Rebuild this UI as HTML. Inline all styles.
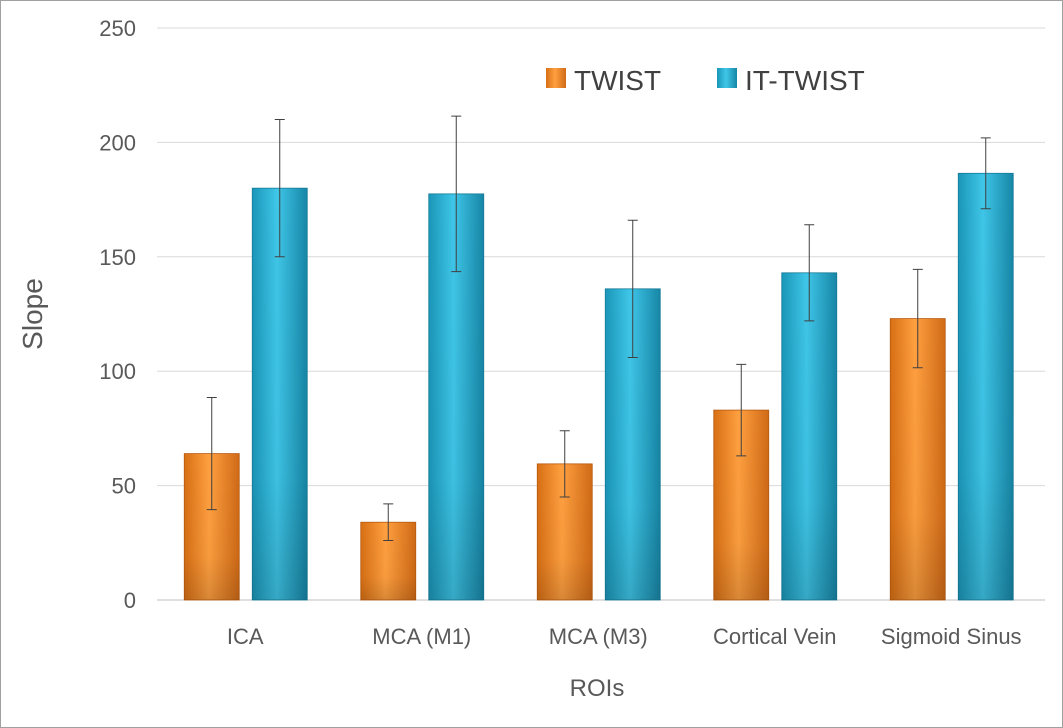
<!DOCTYPE html>
<html><head><meta charset="utf-8"><style>
html,body{margin:0;padding:0;background:#fff;}
svg{display:block;font-family:"Liberation Sans",sans-serif;}
</style></head><body>
<svg id="chart" width="1063" height="728">
<defs>
<linearGradient id="gO" x1="0" x2="1" y1="0" y2="0">
<stop offset="0" stop-color="#d86f14"/><stop offset="0.45" stop-color="#ffa040"/><stop offset="1" stop-color="#d06a16"/></linearGradient>
<linearGradient id="gB" x1="0" x2="1" y1="0" y2="0">
<stop offset="0" stop-color="#1a96b8"/><stop offset="0.45" stop-color="#3fc6e8"/><stop offset="1" stop-color="#1786a6"/></linearGradient>
<linearGradient id="shade" x1="0" x2="0" y1="0" y2="1">
<stop offset="0" stop-color="#000" stop-opacity="0"/><stop offset="0.7" stop-color="#000" stop-opacity="0.03"/><stop offset="1" stop-color="#000" stop-opacity="0.15"/></linearGradient>
</defs>
<rect x="0.5" y="0.5" width="1062" height="727" fill="#fff" stroke="#a0a0a0"/>
<g id="grid"></g><g id="bars"></g><g id="labels"></g>
<text x="42" y="314" font-size="28" fill="#595959" text-anchor="middle" transform="rotate(-90 42 314)">Slope</text>
<text x="597" y="696" font-size="24" fill="#595959" text-anchor="middle">ROIs</text>
<g>
<rect x="546" y="68" width="20" height="20" fill="url(#gO)"/>
<text x="574" y="90" font-size="28" fill="#404040">TWIST</text>
<rect x="717" y="68" width="20" height="20" fill="url(#gB)"/>
<text x="745" y="90" font-size="28" fill="#404040">IT-TWIST</text>
</g>
</svg>
<script>
const categories=["ICA","MCA (M1)","MCA (M3)","Cortical Vein","Sigmoid Sinus"];
const twist=[64,34,59.5,83,123];
const twistErr=[24.5,8,14.5,20,21.5];
const itTwist=[180,177.5,136,143,186.5];
const itTwistErr=[30,34,30,21,15.5];
const yTicks=[0,50,100,150,200,250];
const NS="http://www.w3.org/2000/svg";
const x0=157,catW=176.5,y0=600,yMax=250,ySpan=572;
const y=v=>y0-v/yMax*ySpan;
function mk(t,a,p){const e=document.createElementNS(NS,t);for(const k in a)e.setAttribute(k,a[k]);p.appendChild(e);return e;}
const grid=document.getElementById('grid'),bars=document.getElementById('bars'),labels=document.getElementById('labels');
yTicks.forEach(v=>{
 const l=mk('line',{x1:x0,x2:1045,y1:y(v),y2:y(v),stroke:v===0?'#bfbfbf':'#d9d9d9','stroke-width':1},grid);
 
 
 const t=mk('text',{x:136,y:y(v)+8,'font-size':22,fill:'#595959','text-anchor':'end'},labels);
 t.textContent=v;
 
 
});
function bar(v,e,x,fill,edge,name){
 const r=mk('rect',{x:x,y:y(v),width:55,height:y0-y(v),fill:fill,stroke:edge,'stroke-width':0.8},bars);
 
 
 const s=mk('rect',{x:x,y:y(v),width:55,height:y0-y(v),fill:'url(#shade)'},bars);
 
 
 const cx=x+27.5;
 const g=mk('path',{d:`M${cx} ${y(v+e)}V${y(v-e)}M${cx-5} ${y(v+e)}H${cx+5}M${cx-5} ${y(v-e)}H${cx+5}`,stroke:'#404040','stroke-width':1,fill:'none'},bars);
 
 
}
categories.forEach((c,i)=>{
 const cx=x0+catW*(i+0.5);
 bar(twist[i],twistErr[i],cx-61,'url(#gO)','#b65a10','bar-twist-'+i);
 bar(itTwist[i],itTwistErr[i],cx+7,'url(#gB)','#157a98','bar-it-twist-'+i);
 const t=mk('text',{x:cx,y:644,'font-size':22,fill:'#595959','text-anchor':'middle'},labels);
 t.textContent=c;
 
 
});
</script>
</body></html>
